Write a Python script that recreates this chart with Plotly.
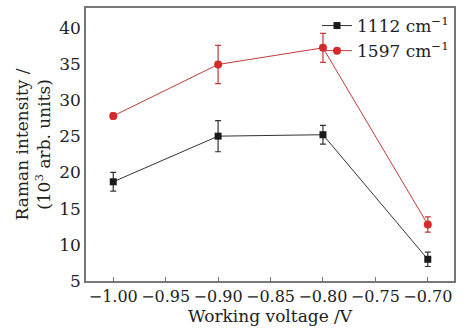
import plotly.graph_objects as go

voltage = [-1.00, -0.90, -0.80, -0.70]
s1112 = [18.7, 25.0, 25.2, 8.0]
e1112 = [1.3, 2.15, 1.3, 1.0]
s1597 = [27.8, 34.9, 37.2, 12.8]
e1597 = [0.4, 2.65, 2.0, 1.05]
xticks = [-1.00, -0.95, -0.90, -0.85, -0.80, -0.75, -0.70]
xticklabels = ["\u22121.00", "\u22120.95", "\u22120.90", "\u22120.85", "\u22120.80", "\u22120.75", "\u22120.70"]
yticks = [5, 10, 15, 20, 25, 30, 35, 40]

font = "DejaVu Serif"
black = "#1a1a1a"
red = "#d42a2a"

fig = go.Figure()
fig.add_trace(go.Scatter(
    x=voltage, y=s1112, mode="lines+markers", name="1112 cm<sup>\u22121</sup>",
    line=dict(color="#333333", width=1),
    marker=dict(symbol="square", size=7, color=black),
    error_y=dict(type="data", array=e1112, color="#333333", thickness=1.2, width=3),
))
fig.add_trace(go.Scatter(
    x=voltage, y=s1597, mode="lines+markers", name="1597 cm<sup>\u22121</sup>",
    line=dict(color="#c0393b", width=1),
    marker=dict(symbol="circle", size=8, color=red),
    error_y=dict(type="data", array=e1597, color="#c0393b", thickness=1.2, width=3),
))

fig.update_layout(
    width=466, height=333,
    margin=dict(l=86, r=12, t=6, b=52),
    paper_bgcolor="white", plot_bgcolor="white",
    font=dict(family=font, size=16, color="#222222"),
    showlegend=True,
    legend=dict(x=1.0, y=1.0, xanchor="right", yanchor="top",
                bgcolor="rgba(0,0,0,0)", font=dict(size=17),
                tracegroupgap=0, itemwidth=30),
    xaxis=dict(
        range=[-1.026, -0.675], tickvals=xticks, ticktext=xticklabels,
        ticks="inside", ticklen=4, tickcolor="#777777",
        showline=True, linecolor="#777777", linewidth=1.5, mirror=True,
        showgrid=False, zeroline=False,
        title=dict(text="Working voltage /V", standoff=2, font=dict(size=17)),
        tickfont=dict(size=16),
    ),
    yaxis=dict(
        range=[5, 42.7], tickvals=yticks,
        ticks="", showline=True, linecolor="#777777", linewidth=1.5, mirror=True,
        showgrid=False, zeroline=False,
        title=dict(text="Raman intensity /<br>(10<sup>3</sup> arb. units)", standoff=4, font=dict(size=17)),
        tickfont=dict(size=17),
    ),
)

fig.write_html("out.html")
